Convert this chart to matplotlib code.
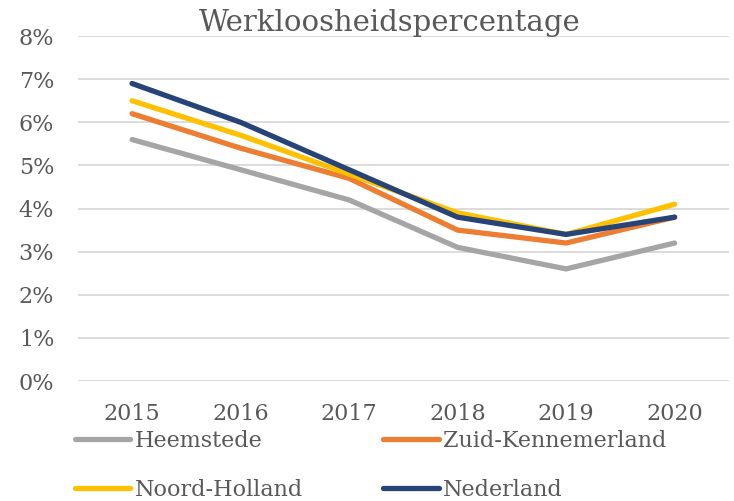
import numpy as np
import matplotlib.pyplot as plt

years = ["2015", "2016", "2017", "2018", "2019", "2020"]
heemstede = [5.6, 4.9, 4.2, 3.1, 2.6, 3.2]
zuid_kennemerland = [6.2, 5.4, 4.7, 3.5, 3.2, 3.8]
noord_holland = [6.5, 5.7, 4.8, 3.9, 3.4, 4.1]
nederland = [6.9, 6.0, 4.9, 3.8, 3.4, 3.8]

series = [("Heemstede", heemstede, "#A5A5A5"),
          ("Zuid-Kennemerland", zuid_kennemerland, "#ED7D31"),
          ("Noord-Holland", noord_holland, "#FFC000"),
          ("Nederland", nederland, "#264478")]

plt.rcParams['font.family'] = ['DejaVu Serif']
txt = "#595959"

fig = plt.figure(figsize=(7.34, 5.01), dpi=100)
ax = fig.add_axes([0.106, 0.2395, 0.887, 0.6885])
x = np.arange(len(years))
lines = []
for name, vals, col in series:
    l, = ax.plot(x, vals, color=col, lw=3.8, label=name, solid_capstyle='round')
    lines.append(l)

ax.set_xlim(-0.5, len(years) - 0.5)
ax.set_ylim(0, 8)
ax.set_yticks(range(0, 9))
ax.set_yticklabels([f"{i}%" for i in range(0, 9)])
ax.set_xticks(x)
ax.set_xticklabels(years)
ax.tick_params(length=0, labelsize=16, colors=txt)
ax.tick_params(axis='x', pad=16)
ax.tick_params(axis='y', pad=17)
ax.grid(axis='y', color="#D9D9D9", lw=1.3)
ax.set_axisbelow(True)
for s in ax.spines.values():
    s.set_visible(False)

fig.text(0.531, 0.955, "Werkloosheidspercentage", ha='center', va='center',
         fontsize=21, color=txt)

# row-major order like the original: column 1 = Heemstede/Noord-Holland
order = [0, 2, 1, 3]
fig.legend([lines[i] for i in order], [series[i][0] for i in order],
           loc='upper left', bbox_to_anchor=(0.102, 0.142), ncol=2, frameon=False,
           fontsize=16, labelcolor=txt, handlelength=2.5, handletextpad=0.2,
           columnspacing=3.6, labelspacing=1.2, borderpad=0, borderaxespad=0)

plt.savefig("out.png", dpi=100)
